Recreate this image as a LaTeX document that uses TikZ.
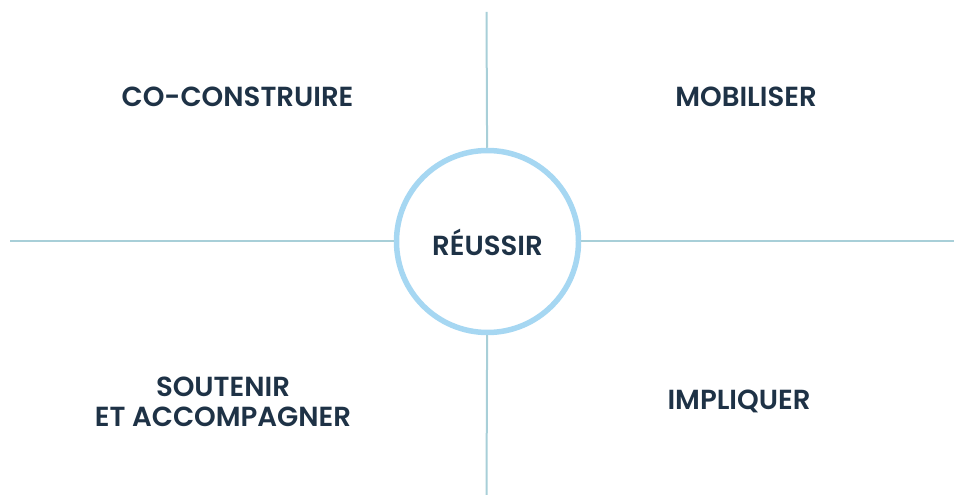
\documentclass[tikz,border=0pt]{standalone}
\usepackage{fontspec}
\setmainfont{Poppins}[BoldFont={Poppins SemiBold}]
\usepackage{tikz}

\definecolor{navy}{HTML}{1E3246}
\definecolor{ringblue}{HTML}{A6D7F2}
\definecolor{axisgrey}{HTML}{A8CFD8}

\begin{document}
\begin{tikzpicture}[x=1bp, y=-1bp,
						axis/.style = {draw = axisgrey, line width = 2bp},
						ring/.style = {circle, draw = ringblue, fill = white,
						line width = 5.5bp, minimum size = 182bp, inner sep = 0pt},
						word/.style = {text = navy, font = \bfseries\fontsize{27.7}{30}\selectfont,
						align = center}]

				\useasboundingbox (0,0) rectangle (954,495);

				\coordinate (top) at (486.5,12);
				\coordinate (bottom) at (486.5,495);
				\coordinate (left) at (10,241.5);
				\coordinate (right) at (954,241.5);

				\node [ring] (centre) at (487.5,241.5) {};

				\draw [axis] (top) -- (centre);
				\draw [axis] (bottom) -- (centre);
				\draw [axis] (left) -- (centre);
				\draw [axis] (right) -- (centre);

				\node [word] (reussir) at (487.5,242.5) {RÉUSSIR};
				\node [word] (coconstruire) at (237.5,97) {CO-CONSTRUIRE};
				\node [word] (mobiliser) at (746,97) {MOBILISER};
				\node [word] (soutenir) at (223,402) {SOUTENIR\\ET ACCOMPAGNER};
				\node [word] (impliquer) at (739,401) {IMPLIQUER};
			\end{tikzpicture}
\end{document}
